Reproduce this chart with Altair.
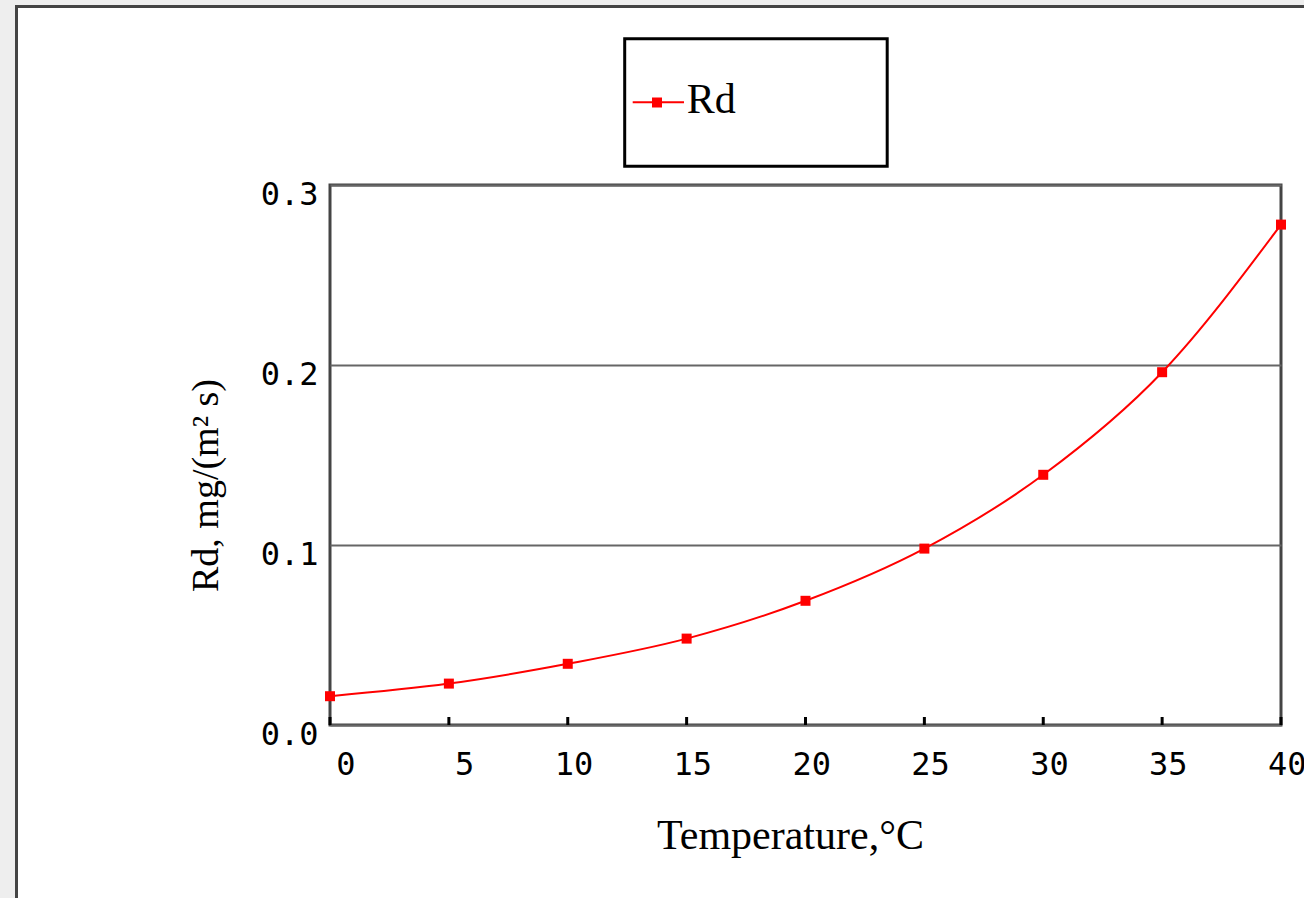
import altair as alt
import pandas as pd

# Dark respiration rate against temperature
temperature = [0, 5, 10, 15, 20, 25, 30, 35, 40]
rd_values = [0.016, 0.023, 0.034, 0.048, 0.069, 0.098, 0.139, 0.196, 0.278]
x_ticks = [0, 5, 10, 15, 20, 25, 30, 35, 40]
y_ticks = [0.0, 0.1, 0.2, 0.3]
series_names = ["Rd"]

RED = "#ff0000"
W, H = 951, 540
PAD = {"left": 330, "top": 185, "right": 23, "bottom": 173}

df = pd.DataFrame({"T": temperature, "Rd": rd_values})
ticks_df = pd.DataFrame({"T": x_ticks})
legend_df = pd.DataFrame({"name": series_names})
one = pd.DataFrame({"k": [1]})

x_enc = alt.X(
    "T:Q",
    scale=alt.Scale(domain=[0, 40], nice=False, zero=False),
    axis=alt.Axis(
        values=x_ticks, format="d", domain=False, ticks=False, grid=False,
        labelFont="DejaVu Sans Mono", labelFontSize=32, labelColor="#000",
        labelAlign="right", labelOffset=25, labelBaseline="top", labelPadding=24,
        labelFlush=False, labelOverlap=False, labelBound=False,
        title="Temperature,°C", titleFont="Liberation Serif", titleFontSize=42,
        titleFontWeight="normal", titleColor="#000",
        titleX=460, titleY=123, titleAlign="center", titleBaseline="alphabetic",
    ),
)
y_enc = alt.Y(
    "Rd:Q",
    scale=alt.Scale(domain=[0, 0.3], nice=False),
    axis=alt.Axis(
        values=y_ticks, format=".1f", domain=False, ticks=False,
        grid=True, gridColor="#666666", gridWidth=2,
        labelFont="DejaVu Sans Mono", labelFontSize=32, labelColor="#000",
        labelAlign="right", labelBaseline="middle", labelPadding=12, labelOffset=9,
        labelFlush=False, labelOverlap=False, labelBound=False,
        title="Rd, mg/(m² s)", titleFont="Liberation Serif", titleFontSize=38,
        titleFontWeight="normal", titleColor="#000",
        titleX=-113, titleY=300, titleAlign="center", titleBaseline="alphabetic",
        titleAngle=270,
    ),
)

curve = alt.Chart(df).mark_line(color=RED, strokeWidth=2, interpolate="monotone").encode(
    x=x_enc, y=y_enc
)
markers = alt.Chart(df).mark_square(color=RED, size=100, opacity=1).encode(
    x="T:Q", y="Rd:Q"
)

# inward tick marks on the bottom frame
inner_ticks = alt.Chart(ticks_df).mark_rule(color="#000", strokeWidth=3).encode(
    x="T:Q", y=alt.value(H), y2=alt.value(H - 8)
)

# window frame around the figure
strip_left = alt.Chart(one).mark_rect(color="#eeeeee").encode(
    x=alt.value(-PAD["left"]), x2=alt.value(-PAD["left"] + 15),
    y=alt.value(-PAD["top"]), y2=alt.value(H + PAD["bottom"])
)
strip_top = alt.Chart(one).mark_rect(color="#eeeeee").encode(
    x=alt.value(-PAD["left"]), x2=alt.value(W + PAD["right"]),
    y=alt.value(-PAD["top"]), y2=alt.value(-PAD["top"] + 5)
)
frame = alt.Chart(one).mark_rect(fillOpacity=0, stroke="#444444", strokeWidth=3).encode(
    x=alt.value(-313.5), x2=alt.value(W + 200),
    y=alt.value(-178.5), y2=alt.value(H + 300)
)

# legend box
leg_box = alt.Chart(one).mark_rect(fill="white", stroke="#000", strokeWidth=3).encode(
    x=alt.value(294.7), x2=alt.value(557.2), y=alt.value(-146.3), y2=alt.value(-18.8)
)
leg_line = alt.Chart(legend_df).mark_rule(color=RED, strokeWidth=2).encode(
    x=alt.value(302.7), x2=alt.value(354), y=alt.value(-82.7)
)
leg_mark = alt.Chart(legend_df).mark_square(color=RED, size=100, opacity=1).encode(
    x=alt.value(327), y=alt.value(-82.5)
)
leg_text = alt.Chart(legend_df).mark_text(
    font="Liberation Serif", fontSize=42, color="#000", align="left", baseline="alphabetic"
).encode(text="name:N", x=alt.value(356.7), y=alt.value(-71.7))

chart = alt.layer(
    strip_left, strip_top, frame, curve, markers, inner_ticks,
    leg_box, leg_line, leg_mark, leg_text,
).properties(
    width=W, height=H, autosize=alt.AutoSizeParams(type="none"), padding=PAD,
    background="white",
).configure_view(
    stroke="#444444", strokeWidth=3
)

chart.save("out.html", embed_options={"renderer": "svg", "actions": False})
